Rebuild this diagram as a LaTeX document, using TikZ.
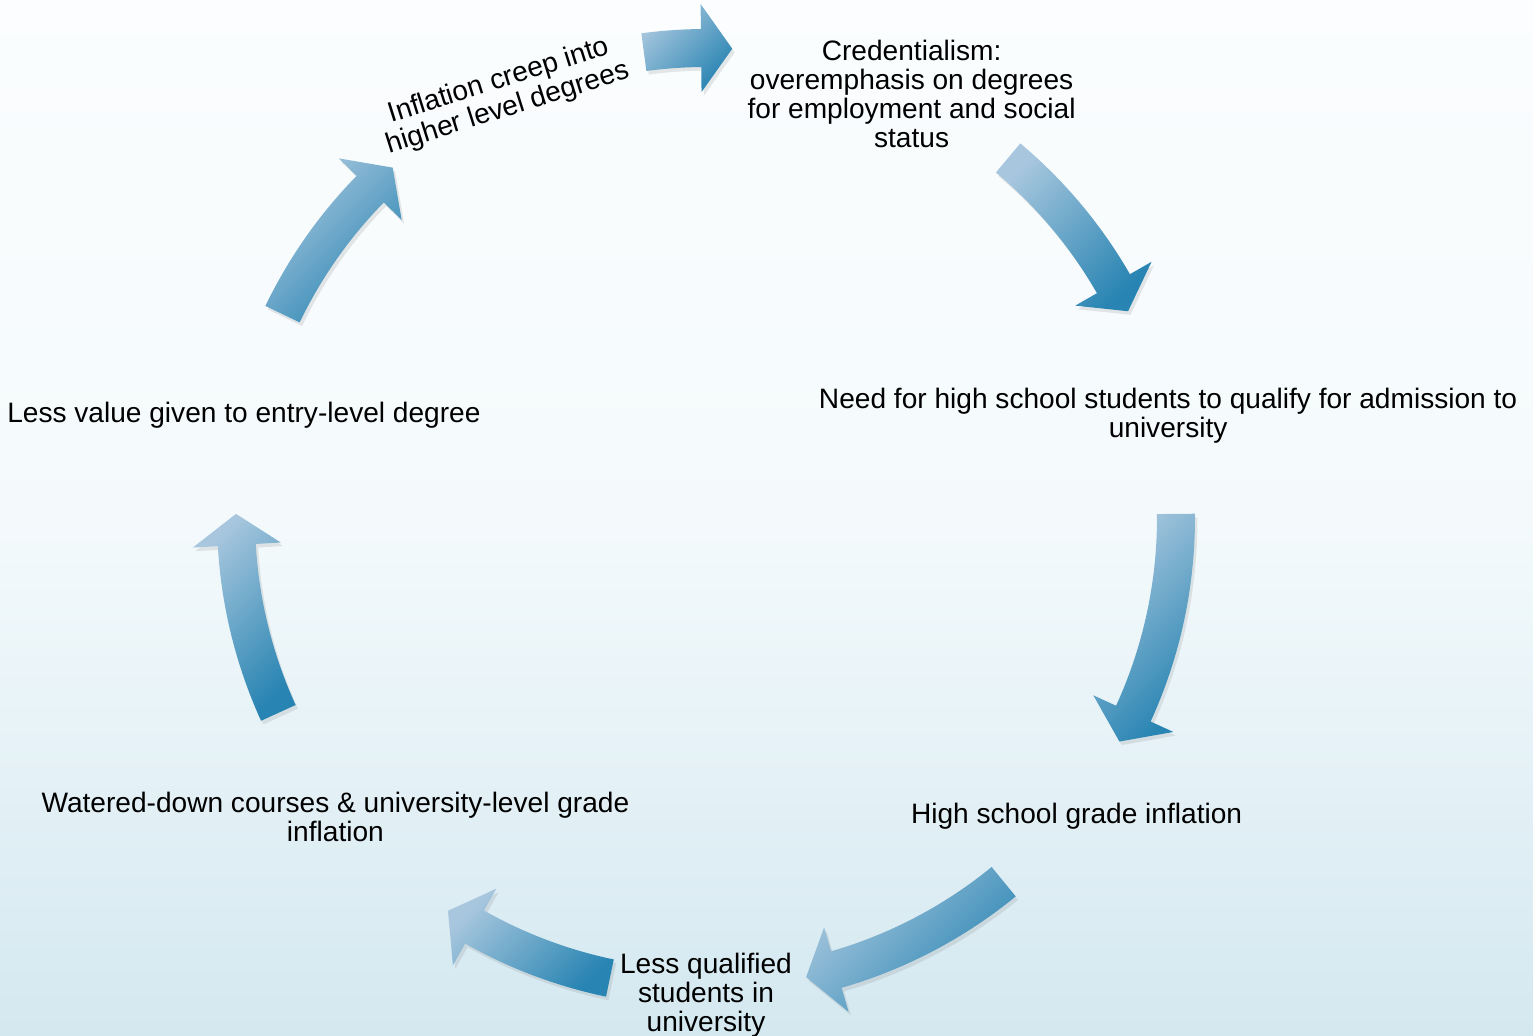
\documentclass[tikz,border=0pt]{standalone}
\usepackage{fontspec}
\setmainfont{Liberation Sans}
\usetikzlibrary{shadows}
\definecolor{cyclelight}{RGB}{168,199,222}
\definecolor{cycledark}{RGB}{40,132,178}
\definecolor{backtop}{RGB}{251,253,254}
\definecolor{backmid}{RGB}{244,250,252}
\definecolor{backbottom}{RGB}{212,232,240}

\begin{document}
\begin{tikzpicture}[x=0.5pt,y=0.5pt,
        stage/.style={align=center,inner sep=0pt,text=black,yshift=-1.6pt},
        blockarrow/.style={top color=cyclelight,bottom color=cycledark,shading angle=45,
          drop shadow={shadow xshift=1.2pt,shadow yshift=-1.8pt,opacity=0.18}},
        every node/.style={font=\fontsize{14.05}{14.5}\selectfont}]
  \useasboundingbox (0,0) rectangle (1533,-1036);
  \shade[top color=backtop,bottom color=backbottom,middle color=backmid] (0,0) rectangle (1533,-1036);
  \begin{scope}[shift={(706,-518)}]
    \coordinate (hub) at (0,0);
    % seven stages round the hub
    \node[stage] (credential) at (64.29:474) {Credentialism:\\overemphasis on degrees\\for employment and social\\status};
    \node[stage] (admission)  at (12.86:474) {Need for high school students to qualify for admission to\\university};
    \node[stage] (highschool) at (-38.57:474) {High school grade inflation};
    \node[stage] (qualified)  at (-90:474) {Less qualified\\students in\\university};
    \node[stage] (watered)    at (218.57:474) {Watered-down courses \& university-level grade\\inflation};
    \node[stage] (entrylevel) at (167.14:474) {Less value given to entry-level degree};
    \node[stage,rotate=17.5] (creep) at (115.4:472) {Inflation creep into\\higher level degrees};
    % curved block arrows: tail angle / tip angle
    \foreach \tail/\tip in {97.6/86.8,50/26.1,0.5/-28.4,-50.7/-77.7,-101.8/-123.3,204.5/179.5,154.3/131.8} {
      \pgfmathsetmacro{\headbase}{\tip+3.8}
      \path[blockarrow] (\tail:489) arc[start angle=\tail,end angle=\headbase,radius=489]
        -- (\headbase:514) -- (\tip:470) -- (\headbase:426) -- (\headbase:451)
        arc[start angle=\headbase,end angle=\tail,radius=451] -- cycle;
    }
  \end{scope}
\end{tikzpicture}
\end{document}
